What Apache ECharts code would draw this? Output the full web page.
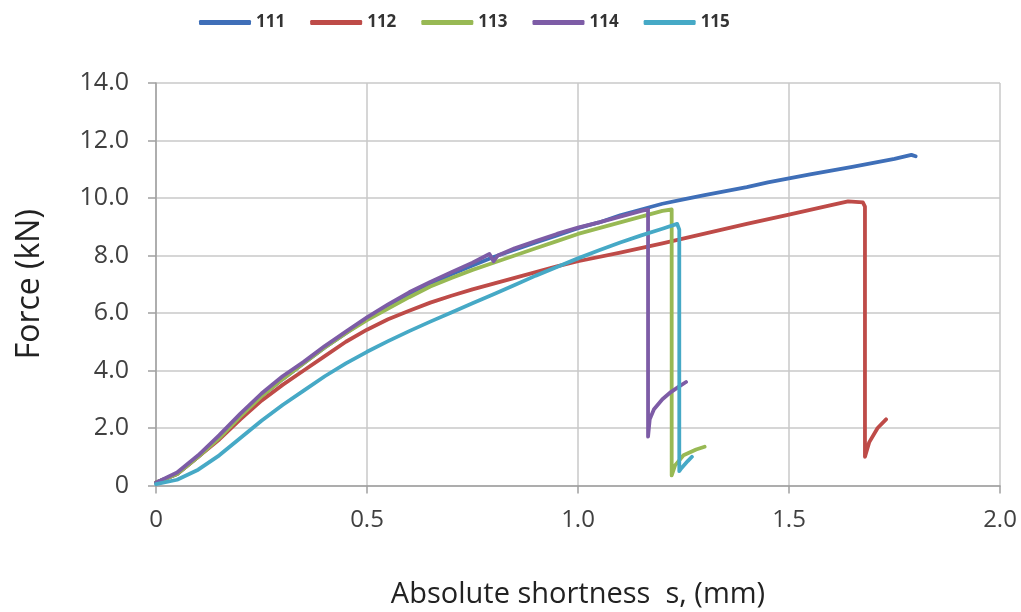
<!DOCTYPE html>
<html>
<head>
<meta charset="utf-8">
<script src="https://cdn.jsdelivr.net/npm/echarts@6/dist/echarts.min.js"></script>
<style>
html,body{margin:0;padding:0;background:#fff;}
#chart{width:1021px;height:612px;}
</style>
</head>
<body>
<div id="chart"></div>
<script>
// Data: [absolute shortness s (mm), force (kN)]
const seriesNames = ['111', '112', '113', '114', '115'];
const xTicks = ['0', '0.5', '1.0', '1.5', '2.0'];
const yTicks = ['0', '2.0', '4.0', '6.0', '8.0', '10.0', '12.0', '14.0'];

const s111 = [[0,0.1],[0.05,0.4],[0.1,1.0],[0.15,1.65],[0.2,2.4],[0.25,3.1],[0.3,3.7],[0.35,4.25],[0.4,4.8],[0.45,5.3],[0.5,5.8],[0.55,6.25],[0.6,6.65],[0.65,7.0],[0.7,7.35],[0.75,7.65],[0.8,7.95],[0.85,8.2],[0.9,8.45],[0.95,8.7],[1.0,8.95],[1.05,9.15],[1.1,9.4],[1.15,9.6],[1.2,9.8],[1.25,9.95],[1.3,10.1],[1.35,10.24],[1.4,10.38],[1.45,10.54],[1.5,10.68],[1.55,10.82],[1.6,10.95],[1.65,11.08],[1.7,11.22],[1.75,11.36],[1.79,11.5],[1.8,11.45]];
const s112 = [[0,0.1],[0.05,0.4],[0.1,1.0],[0.15,1.6],[0.2,2.3],[0.25,2.95],[0.3,3.5],[0.35,4.0],[0.4,4.5],[0.45,5.0],[0.5,5.42],[0.55,5.78],[0.6,6.08],[0.65,6.36],[0.7,6.6],[0.75,6.82],[0.8,7.02],[0.85,7.22],[0.9,7.42],[0.95,7.62],[1.0,7.8],[1.1,8.1],[1.2,8.42],[1.3,8.76],[1.4,9.1],[1.5,9.42],[1.6,9.75],[1.64,9.88],[1.675,9.85],[1.68,9.7],[1.68,1.0],[1.69,1.5],[1.71,2.0],[1.73,2.3]];
const s113 = [[0,0.1],[0.05,0.4],[0.1,1.0],[0.15,1.65],[0.2,2.4],[0.25,3.1],[0.3,3.7],[0.35,4.25],[0.4,4.8],[0.45,5.3],[0.5,5.75],[0.55,6.15],[0.6,6.55],[0.65,6.92],[0.7,7.22],[0.75,7.5],[0.8,7.75],[0.85,8.0],[0.9,8.25],[0.95,8.5],[1.0,8.75],[1.05,8.95],[1.1,9.15],[1.15,9.35],[1.2,9.55],[1.222,9.6],[1.222,0.35],[1.23,0.7],[1.25,1.05],[1.28,1.25],[1.3,1.35]];
const s114 = [[0,0.1],[0.05,0.45],[0.1,1.05],[0.15,1.75],[0.2,2.5],[0.25,3.2],[0.3,3.8],[0.35,4.3],[0.4,4.85],[0.45,5.35],[0.5,5.85],[0.55,6.3],[0.6,6.72],[0.65,7.08],[0.7,7.42],[0.75,7.75],[0.79,8.05],[0.8,7.8],[0.81,8.0],[0.85,8.25],[0.9,8.5],[0.95,8.75],[1.0,8.97],[1.05,9.15],[1.1,9.35],[1.15,9.55],[1.166,9.6],[1.166,1.7],[1.17,2.3],[1.18,2.65],[1.2,3.0],[1.22,3.25],[1.24,3.45],[1.256,3.6]];
const s115 = [[0,0.05],[0.05,0.2],[0.1,0.55],[0.15,1.05],[0.2,1.65],[0.25,2.25],[0.3,2.8],[0.35,3.3],[0.4,3.8],[0.45,4.25],[0.5,4.65],[0.55,5.02],[0.6,5.37],[0.65,5.7],[0.7,6.02],[0.75,6.34],[0.8,6.65],[0.85,6.97],[0.9,7.3],[0.95,7.6],[1.0,7.9],[1.05,8.18],[1.1,8.45],[1.15,8.7],[1.2,8.93],[1.235,9.1],[1.24,8.9],[1.24,0.5],[1.245,0.6],[1.26,0.85],[1.27,1.0]];

const colors = ['#3F6FB8', '#BE4B48', '#98B954', '#7D5CA6', '#46A9C6'];
const allData = [s111, s112, s113, s114, s115];

const chart = echarts.init(document.getElementById('chart'), null, {renderer: 'canvas'});
const axisFont = 'Open Sans';
chart.setOption({
  animation: false,
  backgroundColor: '#ffffff',
  color: colors,
  legend: {
    top: 9,
    left: 194,
    itemWidth: 52,
    itemHeight: 5,
    itemGap: 25,
    icon: 'roundRect',
    textStyle: {fontFamily: 'Liberation Sans Narrow, Open Sans', fontSize: 17, fontWeight: 'bold', color: '#333'},
    data: seriesNames
  },
  grid: {left: 156, right: 21, top: 83, bottom: 126.5, containLabel: false, outerBoundsMode: 'none'},
  xAxis: {
    type: 'value',
    min: 0, max: 2, interval: 0.5,
    name: 'Absolute shortness  s, (mm)',
    nameLocation: 'middle',
    nameGap: 95,
    nameTextStyle: {fontFamily: axisFont, fontSize: 29, color: '#222'},
    axisLine: {show: true, lineStyle: {color: '#a0a0a0', width: 1.5}},
    axisTick: {show: true, length: 8, lineStyle: {color: '#a0a0a0', width: 1.5}},
    axisLabel: {margin: 23, fontFamily: axisFont, fontSize: 24, color: '#404040',
      formatter: function (v) { return xTicks[Math.round(v / 0.5)]; }},
    splitLine: {show: true, lineStyle: {color: '#c8c8c8', width: 1.5}}
  },
  yAxis: {
    type: 'value',
    min: 0, max: 14, interval: 2,
    name: 'Force (kN)',
    nameLocation: 'middle',
    nameGap: 110,
    nameTextStyle: {fontFamily: axisFont, fontSize: 32, color: '#222'},
    axisLine: {show: true, lineStyle: {color: '#a0a0a0', width: 1.5}},
    axisTick: {show: true, length: 8, lineStyle: {color: '#a0a0a0', width: 1.5}},
    axisLabel: {margin: 27, fontFamily: axisFont, fontSize: 25, color: '#404040',
      formatter: function (v) { return yTicks[Math.round(v / 2)]; }},
    splitLine: {show: true, lineStyle: {color: '#c8c8c8', width: 1.5}}
  },
  series: seriesNames.map(function (n, i) {
    return {
      name: n,
      type: 'line',
      data: allData[i],
      showSymbol: false,
      symbol: 'none',
      smooth: false,
      lineStyle: {width: 3.8, color: colors[i], cap: 'round', join: 'round'},
      itemStyle: {color: colors[i]},
      emphasis: {disabled: true}
    };
  })
});
</script>
</body>
</html>
